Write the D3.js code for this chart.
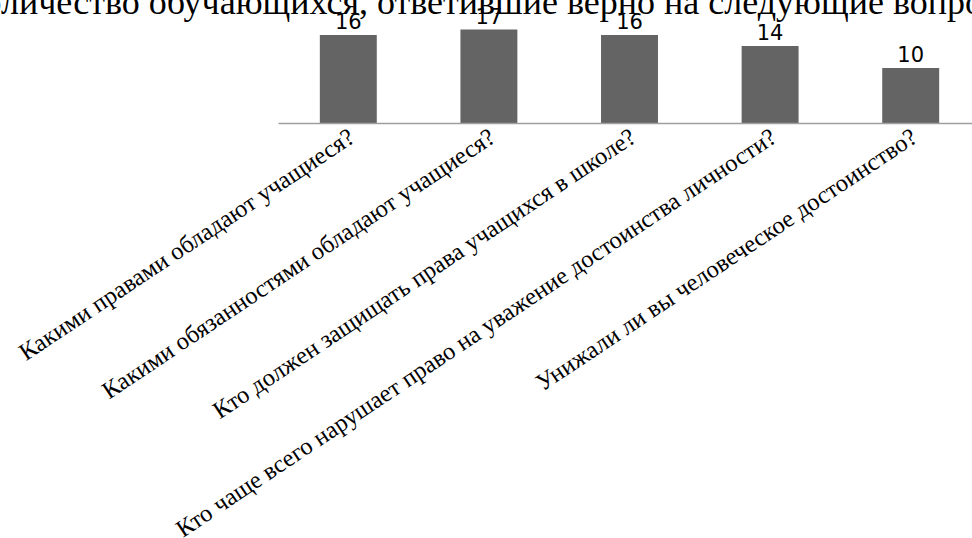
<!DOCTYPE html>
<html><head><meta charset="utf-8">
<script src="https://cdn.jsdelivr.net/npm/d3@7"></script>
<style>html,body{margin:0;padding:0;background:#fff;overflow:hidden}</style>
</head><body>
<svg id="c" width="972" height="538"></svg>
<script>
const titleText = "Количество обучающихся, ответившие верно на следующие вопросы";
const categories = [
  "Какими правами обладают учащиеся?",
  "Какими обязанностями обладают учащиеся?",
  "Кто должен защищать права учащихся в школе?",
  "Кто чаще всего нарушает право на уважение достоинства личности?",
  "Унижали ли вы человеческое достоинство?"
];
const values = [16, 17, 16, 14, 10];

const svg = d3.select("#c");
const plot = {left: 278, right: 981, top: 24, bottom: 123};

const x = d3.scaleBand().domain(categories).range([plot.left, plot.right]).paddingInner(0.595).paddingOuter(0.2975);
const y = d3.scaleLinear().domain([0, 18]).range([plot.bottom, plot.top]);

svg.selectAll("rect.bar").data(values).enter().append("rect")
  .attr("class", "bar")
  .attr("x", (d, i) => x(categories[i]))
  .attr("y", d => y(d))
  .attr("width", x.bandwidth())
  .attr("height", d => y(0) - y(d))
  .attr("fill", "#646464");

const xAxis = d3.axisBottom(x).tickSize(0).tickFormat("");
const gx = svg.append("g").attr("transform", `translate(0,${plot.bottom})`).call(xAxis);
gx.select(".domain").attr("stroke", "#9e9e9e").attr("stroke-width", 1.5);

svg.selectAll("text.val").data(values).enter().append("text")
  .attr("class", "val")
  .attr("x", (d, i) => x(categories[i]) + x.bandwidth() / 2)
  .attr("y", d => y(d) - 6)
  .attr("text-anchor", "middle")
  .attr("font-family", "DejaVu Sans")
  .attr("font-size", 21)
  .attr("fill", "#000")
  .text(d => d);

svg.selectAll("text.cat").data(categories).enter().append("text")
  .attr("class", "cat")
  .attr("transform", d => `translate(${x(d) + x.bandwidth() / 2 + 8},${plot.bottom + 18}) rotate(-33.7)`)
  .attr("text-anchor", "end")
  .attr("font-family", "Liberation Serif")
  .attr("font-size", 24.5)
  .attr("fill", "#000")
  .text(d => d);

const t = svg.append("text")
  .attr("y", 14)
  .attr("font-family", "Liberation Serif")
  .attr("font-size", 36)
  .attr("fill", "#000")
  .text(titleText);
const off = t.node().getSubStringLength(0, 2);
t.attr("x", -off + 1);
</script>
</body></html>
